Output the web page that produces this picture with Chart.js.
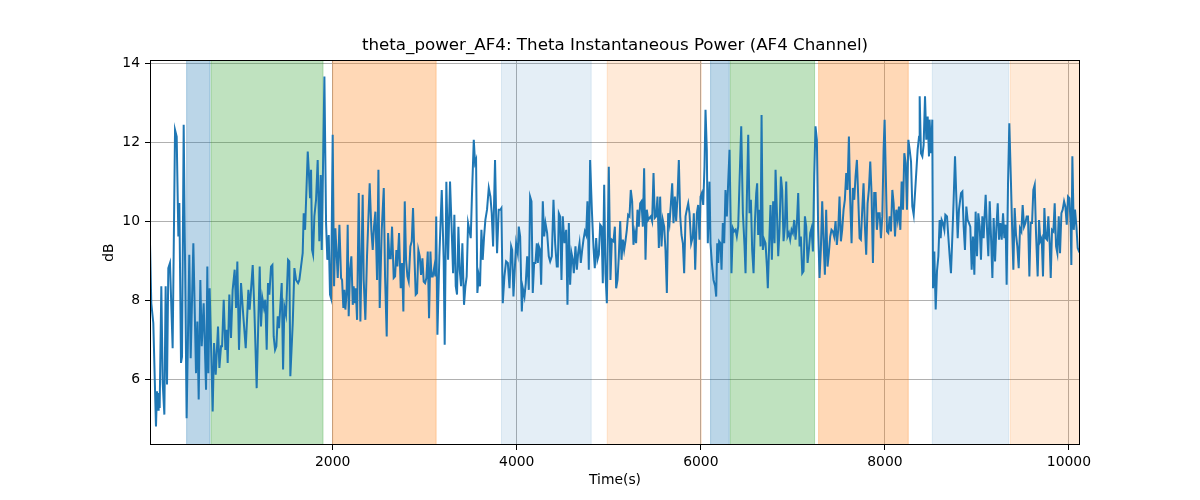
<!DOCTYPE html>
<html>
<head>
<meta charset="utf-8">
<script src="https://cdn.jsdelivr.net/npm/chart.js@4.4.1/dist/chart.umd.min.js"></script>
<style>
  html, body { margin: 0; padding: 0; background: #fff; }
  #wrap { width: 1200px; height: 500px; }
</style>
</head>
<body>
<div id="wrap"><canvas id="chart" width="1200" height="500"></canvas></div>
<script>
// Sample times (s) and theta power (dB)
const timeSec = [
  15,29,51,80,91,106,109,120,138,153,
  171,185,200,214,232,261,287,305,323,334,
  352,363,381,413,442,457,486,515,529,544,
  562,577,598,624,638,649,663,696,711,729,
  754,769,787,798,816,834,848,859,877,895,
  913,935,950,964,982,1004,1029,1055,1084,1098,
  1131,1149,1174,1207,1221,1236,1254,1268,1283,1297,
  1312,1330,1345,1359,1374,1388,1403,1417,1446,1461,
  1475,1493,1515,1529,1540,1566,1584,1602,1624,1638,
  1656,1674,1685,1700,1729,1740,1754,1765,1776,1787,
  1801,1819,1837,1855,1870,1881,1910,1928,1942,1957,
  1971,1982,2000,
  2015,2029,2044,2055,2073,2091,2102,2116,2127,2138,
  2152,2163,2174,2189,2203,2218,2228,2239,2250,2265,
  2283,2301,2326,2337,2355,2373,2402,2420,2435,2449,
  2464,2482,2497,2511,2533,2555,2569,2587,2602,2616,
  2631,2645,2663,2678,2692,2703,2721,2739,2754,2768,
  2783,2797,2812,2826,2844,2859,2873,2888,2902,2917,
  2931,2946,2960,2975,2989,3004,3018,3033,3047,3062,
  3073,3087,3105,3116,3125,3138,3159,3185,3206,3217,
  3235,3254,3275,3293,3308,3322,3337,3351,3366,3380,
  3395,3409,3427,3442,3456,3471,3485,3500,3514,3533,
  3547,3558,3572,3587,3601,3616,3630,3645,3659,3677,
  3696,3714,3728,3743,3764,3779,3786,3804,3822,3833,
  3848,3866,3884,3903,3921,3939,3950,3964,3982,3993,
  4011,4022,4037,4055,4066,4084,4098,4113,4131,4145,
  4160,4174,4189,4203,4218,4229,4240,4254,4265,4283,
  4298,4312,4330,4348,4363,4381,4399,4417,4435,4446,
  4457,4471,4486,4500,4518,4537,4551,4566,4580,4595,
  4609,4620,4638,4653,4667,4682,4696,4711,4725,4740,
  4754,4768,4783,4797,4816,4834,4848,4863,4877,4892,
  4906,4921,4935,4950,4964,4979,5000,5018,5033,5051,
  5066,5080,5095,5109,5124,5138,5153,5167,5181,5196,
  5210,5225,5239,5254,5268,5283,5297,5312,5326,5341,
  5355,5370,5384,5399,5413,5428,5442,5457,5471,5486,
  5500,5515,5529,5544,5558,5573,5587,5602,5616,5631,
  5645,5660,5674,5689,5703,5718,5732,5747,5761,5776,
  5790,5805,5819,5834,5848,5863,
  5877,5895,5913,5924,5939,5957,5971,5986,5997,6011,
  6026,6040,6051,6065,6076,6094,6105,6120,6138,6156,
  6167,6178,6189,6199,6214,6225,6239,6254,6268,6283,
  6297,6312,6323,6333,6348,6362,6377,6391,6406,6420,
  6439,6457,6475,6486,6500,6515,6529,6544,6558,6573,
  6587,6602,6612,6623,6638,6649,6660,6674,6689,6703,
  6718,6728,6743,6757,6772,6786,6801,6812,6826,6841,
  6855,6870,6884,6899,6913,6928,6942,6957,6971,6986,
  7000,7015,7029,7044,7058,7073,7087,7102,7116,7131,
  7145,7160,7174,7189,7203,7218,7232,7246,7261,7275,
  7290,7304,7319,7333,7348,7362,7377,7391,7406,7420,
  7435,7449,7464,7478,7493,7507,7522,7536,7551,7565,
  7580,7594,7609,7623,7638,7652,7667,7681,7696,7710,
  7725,7739,7754,7768,7783,7797,7812,7826,7841,7855,
  7870,7884,7899,7913,7928,
  7943,7957,7972,7986,7997,8008,8023,8037,8052,8066,
  8081,8095,8110,8124,8139,8153,8168,8182,8197,8211,
  8226,8240,8255,8269,8284,8298,8313,8334,8356,8371,
  8378,8392,8407,8421,8436,8450,8465,8479,8486,8501,
  8515,8523,8537,8552,8566,8581,8595,8606,8617,8631,
  8646,8657,8675,8689,8704,8718,8733,8747,8762,8776,
  8791,8805,8827,8842,8856,8870,8885,8899,8914,8928,
  8943,8957,8972,8986,9001,9015,9030,9044,9059,9073,
  9084,9095,9110,9124,9139,9153,9168,9182,9197,9211,
  9226,9240,9255,9269,9284,9298,9312,9323,9338,9352,
  9370,9385,9396,9410,9425,9439,9454,9468,9483,9497,
  9512,9526,9541,9555,9570,9584,9599,9613,9628,9642,
  9660,9675,9689,9704,9718,9733,9747,9762,9776,9791,
  9802,9816,9831,9845,9860,9874,9889,9903,9918,9932,
  9947,9961,9976,9990,10005,10019,10026,10037,10052,10066,
  10081,10095,10110,10120
];

const thetaDb = [
  9.44,7.92,7.42,4.80,5.69,5.22,5.65,5.27,8.35,5.90,
  5.10,8.35,5.86,8.81,8.94,6.78,12.31,12.14,9.61,10.46,
  6.41,6.57,12.44,5.01,9.15,6.53,9.44,6.15,7.46,5.48,
  8.51,6.83,7.92,5.73,8.85,6.15,8.30,5.18,6.91,6.11,
  7.33,6.28,6.83,6.83,8.01,6.74,7.25,6.41,8.14,7.04,
  8.26,8.77,7.80,8.98,6.74,8.43,7.59,6.78,8.26,7.76,
  8.89,7.76,5.77,8.85,7.33,8.05,7.80,8.01,6.74,8.43,
  8.14,8.85,8.89,7.08,6.74,6.83,7.59,7.29,8.43,6.24,
  7.84,7.63,9.02,8.98,6.07,7.42,8.81,8.51,8.43,8.51,
  8.85,9.19,10.20,9.78,11.76,11.30,10.58,11.30,9.27,9.15,
  10.12,10.54,11.55,9.49,11.17,9.27,13.66,9.95,9.02,9.65,
  8.14,8.05,12.19,
  8.35,9.82,9.11,8.56,9.91,8.56,8.51,7.80,8.26,7.76,
  8.22,9.91,7.59,8.77,9.11,7.88,8.35,7.92,8.30,7.50,
  10.71,7.46,10.67,8.51,7.50,9.11,10.96,9.78,9.27,9.86,
  10.24,8.51,11.30,7.80,9.78,10.84,8.60,7.08,9.70,9.06,
  9.06,9.86,8.56,8.60,9.27,8.85,9.70,8.30,8.94,7.71,
  10.50,9.02,8.60,8.47,9.36,9.49,10.33,9.11,8.14,8.18,
  9.27,9.11,8.64,9.06,8.47,8.43,8.56,9.23,7.54,9.23,
  8.60,8.60,8.85,8.60,10.12,7.12,9.11,10.79,9.02,6.87,
  11.00,9.02,11.00,9.78,8.68,10.16,8.35,8.14,9.86,8.77,
  8.35,9.44,7.88,8.35,8.60,9.95,9.78,9.57,10.71,12.06,
  11.47,11.55,8.18,8.60,8.35,9.78,9.02,9.61,10.03,10.29,
  10.84,10.62,10.20,9.36,11.55,9.78,9.19,10.29,10.29,10.33,
  7.92,8.60,8.98,8.94,8.30,9.36,9.27,8.09,8.94,9.44,
  9.19,9.86,9.61,7.71,8.30,8.09,8.43,9.11,8.26,10.62,
  10.50,8.18,8.94,8.94,9.44,8.94,9.36,9.27,8.39,10.50,
  9.61,9.95,9.70,9.11,8.98,9.11,10.54,9.44,8.85,8.85,
  10.20,10.12,8.51,10.12,9.44,9.78,7.88,9.95,8.39,9.19,
  9.02,8.68,9.36,8.77,9.19,9.44,8.94,9.27,9.53,9.74,
  9.65,10.50,8.77,11.55,10.29,9.32,8.81,9.57,9.02,9.15,
  9.91,9.86,8.43,10.92,8.68,7.92,11.38,8.51,9.53,9.49,
  9.86,8.30,8.51,9.11,10.00,9.02,9.53,9.27,9.49,9.78,
  10.16,10.12,10.79,10.50,9.40,9.70,9.44,10.29,9.86,10.45,
  10.50,9.86,11.34,9.02,10.29,10.03,10.08,10.12,10.00,11.22,
  10.08,10.12,10.62,9.32,10.62,9.36,10.03,9.86,9.27,8.18,
  10.20,9.95,10.41,10.96,9.95,10.62,10.00,10.62,11.55,10.12,
  9.65,9.44,8.68,10.12,10.29,10.45,
  10.20,9.44,9.61,10.20,8.77,10.20,10.41,9.53,10.62,10.71,
  10.41,11.38,12.82,11.81,9.44,11.00,9.44,8.94,8.51,8.35,
  8.09,9.44,8.94,9.49,9.44,8.77,9.95,9.44,10.79,10.12,
  10.96,11.81,10.20,8.68,9.82,9.74,9.78,9.61,9.86,10.96,
  12.40,10.20,9.36,8.68,10.54,12.19,10.20,10.54,9.27,8.68,
  9.95,10.71,10.96,9.65,10.29,9.36,12.69,9.27,9.53,9.44,
  8.85,8.30,9.44,10.41,9.02,10.50,9.44,11.30,10.29,9.11,
  9.78,11.13,10.79,9.49,9.86,11.00,9.61,9.70,9.53,9.78,
  9.70,10.03,9.53,9.95,10.71,9.36,9.61,8.68,8.73,10.12,
  9.86,8.94,9.27,9.70,9.82,9.23,11.13,12.40,12.06,9.78,
  8.56,9.27,10.50,9.53,8.64,10.29,8.85,9.19,9.61,9.78,
  9.74,9.61,10.00,9.40,9.78,10.62,9.49,9.78,10.29,10.54,
  11.22,10.79,12.14,10.54,9.44,10.84,10.54,11.13,11.55,10.62,
  9.57,9.53,10.29,10.96,9.86,9.15,10.45,10.79,11.51,10.71,
  8.94,10.71,10.71,9.78,10.20,
  10.20,9.57,10.12,11.81,12.57,11.38,9.74,9.70,10.12,9.74,
  10.79,10.45,9.61,10.29,10.03,10.37,9.78,11.00,10.29,11.72,
  11.47,10.29,12.06,11.81,11.51,10.37,10.16,10.96,11.81,12.14,
  13.16,11.72,11.64,11.93,13.16,12.06,12.65,11.64,12.57,11.72,
  12.57,8.30,9.23,7.76,8.73,9.11,10.03,9.57,10.03,9.95,
  9.78,10.16,10.12,9.61,9.11,8.68,9.61,10.54,11.64,10.62,
  9.57,10.29,10.71,10.75,9.86,9.27,10.37,10.03,9.95,9.86,
  8.77,9.61,8.64,10.24,9.11,10.20,9.86,9.02,10.12,9.57,
  10.16,10.67,9.78,9.11,10.50,9.61,8.56,10.08,8.98,9.82,
  10.45,9.53,9.95,9.53,10.20,9.57,9.91,8.39,10.96,12.48,
  10.96,9.61,8.77,10.33,9.65,9.36,8.81,9.82,9.74,10.41,
  9.86,9.95,10.12,10.12,8.60,9.95,9.95,10.79,10.92,9.70,
  8.60,10.03,9.49,9.57,8.60,10.33,9.57,9.53,10.12,9.40,
  8.56,9.78,9.74,10.45,9.36,9.19,10.12,9.19,10.20,10.29,
  10.50,10.37,9.91,10.62,10.58,9.86,8.89,11.64,9.78,10.29,
  9.86,9.32,9.23,9.19
];

// Shaded intervals
const spanStart = [413, 678, 2000, 3834, 4983, 6106, 6320, 7280, 8515, 9363];
const spanEnd   = [667, 1895, 3124, 4809, 6005, 6309, 7236, 8254, 9345, 10120];
const spanKind  = ['blue', 'green', 'orange', 'blueLight', 'orangeLight',
                   'blue', 'green', 'orange', 'blueLight', 'orangeLight'];

const xTickValues = [2000, 4000, 6000, 8000, 10000];
const yTickValues = [6, 8, 10, 12, 14];

const spanColors = {
    blue: 'rgba(31, 119, 180, 0.3)',
    green: 'rgba(44, 160, 44, 0.3)',
    orange: 'rgba(255, 127, 14, 0.3)',
    blueLight: 'rgba(31, 119, 180, 0.12)',
    orangeLight: 'rgba(255, 127, 14, 0.16)'
};

Chart.defaults.font.family = "'DejaVu Sans', sans-serif";
Chart.defaults.color = '#000';

// Draws the vertical bands behind the line
const spanPlugin = {
    id: 'spans',
    beforeDatasetsDraw(chart) {
        const { ctx, chartArea, scales } = chart;
        ctx.save();
        ctx.beginPath();
        ctx.rect(chartArea.left, chartArea.top, chartArea.width, chartArea.height);
        ctx.clip();
        spanStart.forEach((start, i) => {
            const x0 = scales.x.getPixelForValue(start);
            const x1 = scales.x.getPixelForValue(spanEnd[i]);
            const color = spanColors[spanKind[i]];
            ctx.fillStyle = color;
            ctx.fillRect(x0, chartArea.top, x1 - x0, chartArea.height);
            ctx.strokeStyle = color;
            ctx.lineWidth = 1;
            ctx.beginPath();
            ctx.moveTo(x0, chartArea.top);
            ctx.lineTo(x0, chartArea.bottom);
            ctx.moveTo(x1, chartArea.top);
            ctx.lineTo(x1, chartArea.bottom);
            ctx.stroke();
        });
        ctx.restore();
    }
};

// Black frame round the plot area
const framePlugin = {
    id: 'frame',
    afterDatasetsDraw(chart) {
        const { ctx, chartArea } = chart;
        ctx.save();
        ctx.strokeStyle = '#000';
        ctx.lineWidth = 1;
        ctx.strokeRect(Math.round(chartArea.left) + 0.5, Math.round(chartArea.top) + 0.5,
            Math.round(chartArea.width) - 1, Math.round(chartArea.height) - 1);
        ctx.restore();
    }
};

const ctx = document.getElementById('chart').getContext('2d');
new Chart(ctx, {
    type: 'line',
    data: {
        datasets: [{
            data: timeSec.map((t, i) => ({ x: t, y: thetaDb[i] })),
            borderColor: '#1f77b4',
            borderWidth: 2,
            pointRadius: 0,
            tension: 0,
            fill: false
        }]
    },
    options: {
        responsive: false,
        animation: false,
        devicePixelRatio: 1,
        layout: { padding: { left: 0, right: 120, top: 0, bottom: 0 } },
        plugins: {
            legend: { display: false },
            tooltip: { enabled: false },
            title: {
                display: true,
                fullSize: false,
                text: 'theta_power_AF4: Theta Instantaneous Power (AF4 Channel)',
                color: '#000',
                font: { size: 16.7, weight: 'normal' },
                padding: { top: 36, bottom: 4 }
            }
        },
        scales: {
            x: {
                type: 'linear',
                min: 15,
                max: 10120,
                afterBuildTicks: scale => { scale.ticks = xTickValues.map(v => ({ value: v })); },
                afterFit: scale => { scale.height = 55; },
                border: { display: false },
                grid: { color: '#b0b0b0', lineWidth: 1, tickColor: '#000', tickLength: 5, tickWidth: 1 },
                ticks: { color: '#000', padding: 4, maxRotation: 0, font: { size: 13.9 }, callback: v => String(v) },
                title: { display: true, text: 'Time(s)', color: '#000', font: { size: 13.9 }, padding: { top: 0, bottom: 11 } }
            },
            y: {
                type: 'linear',
                min: 4.33,
                max: 14.08,
                afterBuildTicks: scale => { scale.ticks = yTickValues.map(v => ({ value: v })); },
                afterFit: scale => { scale.width = 150; },
                border: { display: false },
                grid: { color: '#b0b0b0', lineWidth: 1, tickColor: '#000', tickLength: 5, tickWidth: 1 },
                ticks: { color: '#000', padding: 5, font: { size: 13.9 }, callback: v => String(v) },
                title: { display: true, text: 'dB', color: '#000', font: { size: 13.9 }, padding: { top: 101, bottom: 0 } }
            }
        }
    },
    plugins: [spanPlugin, framePlugin]
});
</script>
</body>
</html>
